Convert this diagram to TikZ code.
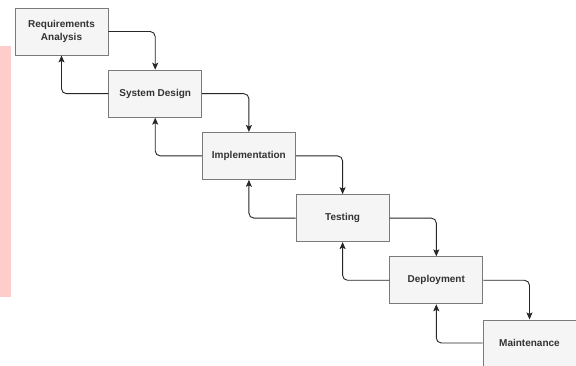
\documentclass[tikz,border=0pt]{standalone}
\usepackage{fontspec}
\setmainfont{Liberation Sans}
\usetikzlibrary{arrows.meta}
\definecolor{boxfill}{HTML}{F5F5F5}
\definecolor{boxline}{HTML}{7A7A7A}
\definecolor{txt}{HTML}{333333}
\definecolor{strip}{HTML}{FFCCCC}
\tikzset{
  phase/.style={draw=boxline, fill=boxfill, line width=0.9pt, minimum width=93pt, minimum height=47pt,
    inner sep=0pt, align=center, font=\bfseries\fontsize{10}{12.5}\selectfont, text=txt},
  arr/.style={draw=black!85, line width=0.9pt, rounded corners=5pt,
    -{Stealth[length=7pt,width=6pt,inset=1.5pt]}}
}
\begin{document}
\begin{tikzpicture}[x=1pt,y=-1pt]
\useasboundingbox (0,0) rectangle (576,366);
\fill[white] (0,0) rectangle (576,366);
\fill[strip] (0,46) rectangle (11,297);
\node[phase] (b1) at (61.5,31.5) {Requirements\\Analysis};
\node[phase] (b2) at (155.2,93.7) {System Design};
\node[phase] (b3) at (248.9,155.9) {Implementation};
\node[phase] (b4) at (342.6,218.1) {Testing};
\node[phase] (b5) at (436.3,280.3) {Deployment};
\node[phase, minimum width=100pt, minimum height=50pt, anchor=north west] (b6) at (482.5,319.5) {};
\node[font=\bfseries\fontsize{10}{12.5}\selectfont, text=txt, inner sep=0pt] (t6) at (529.5,343) {Maintenance};
\coordinate (m6) at (529.5,319.5);
\foreach \a/\b in {b1/b2,b2/b3,b3/b4,b4/b5}{
  \draw[arr] (\a.east) -| (\b.north);
  \draw[arr] (\b.west) -| (\a.south);
}
\draw[arr] (b5.east) -| (m6);
\draw[arr] (b6.west |- t6) -| (b5.south);
\end{tikzpicture}
\end{document}
